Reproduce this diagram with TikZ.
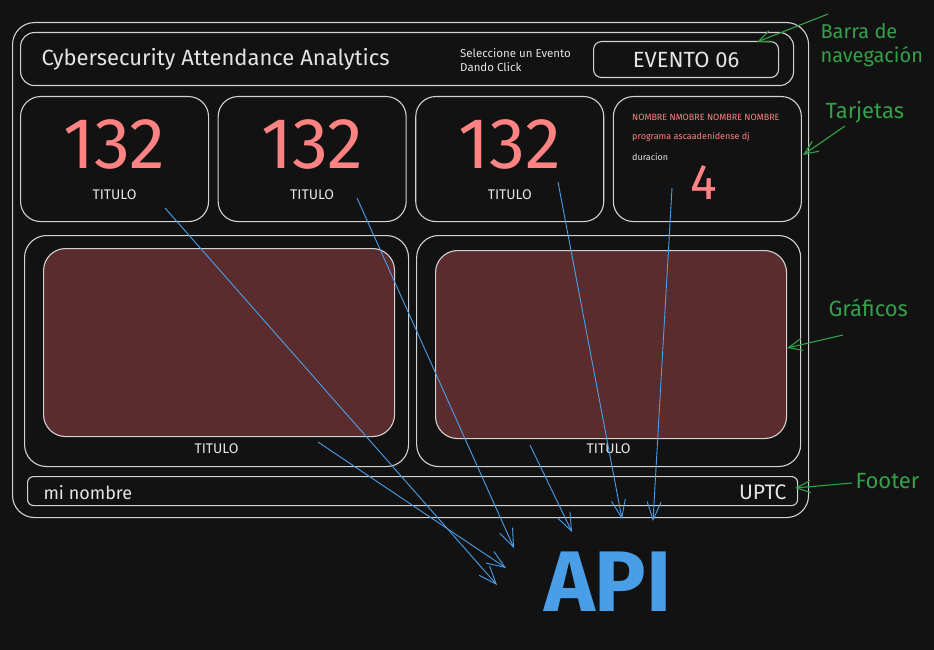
\documentclass[tikz,border=0pt]{standalone}
\usepackage{fontspec}
\setmainfont{Fira Sans}
\usetikzlibrary{arrows.meta,positioning}
\definecolor{dbbg}{HTML}{121212}
\definecolor{dbline}{HTML}{D2D2D2}
\definecolor{dbtext}{HTML}{E4E4E4}
\definecolor{dbpink}{HTML}{FF8383}
\definecolor{dbwine}{HTML}{5B2C2E}
\definecolor{dbblue}{HTML}{4A9EE8}
\definecolor{dbgreen}{HTML}{34A14A}
\newcommand\dbsize[1]{\fontsize{#1}{#1}\selectfont}
\tikzset{
  frame/.style={draw=dbline,line width=1.1pt,rounded corners=#1,inner sep=0pt,
                anchor=north west},
  frame/.default=18pt,
  card/.style={frame=20pt,minimum width=188pt,minimum height=125pt},
  chart/.style={frame=22pt,minimum width=384pt,minimum height=231pt},
  plot/.style={frame=22pt,fill=dbwine,minimum width=351pt,minimum height=188pt},
  num/.style={text=dbpink,font=\dbsize{72},inner sep=0pt,text height=50pt,text depth=0pt},
  ttl/.style={text=dbtext,font=\dbsize{14},inner sep=0pt},
  small/.style={text=dbpink,font=\dbsize{9},anchor=west,inner sep=0pt},
  note/.style={text=dbgreen,font=\dbsize{22},align=left,anchor=west},
  ar/.style={-{Straight Barb[length=18pt,width=14pt]},dbblue,line width=0.9pt},
  arn/.style={-{Straight Barb[length=14pt,width=12pt]},dbgreen,line width=1.1pt},
}

\begin{document}
\begin{tikzpicture}[x=1pt,y=-1pt]
    \path[use as bounding box,fill=dbbg] (0,0) rectangle (934,650);
    % page frame and navigation bar
    \node[frame=22pt,minimum width=796pt,minimum height=495pt] (page) at (12,22) {};
    \node[frame=14pt,minimum width=773pt,minimum height=53pt] (nav) at (20,32) {};
    \node[text=dbtext,font=\dbsize{22},anchor=west] (title) at (38,59)
      {Cybersecurity Attendance Analytics};
    \node[text=dbtext,font=\dbsize{11.5},align=left,anchor=west,inner sep=0pt] (hint) at (460,60)
      {Seleccione un Evento\\[2pt]Dando Click};
    \node[frame=8pt,minimum width=185pt,minimum height=36pt] (ev) at (593,41) {};
    \node[text=dbtext,font=\dbsize{22}] (evt) at (ev.center) {EVENTO 06};
    % cards
    \node[card] (c1) at (20,96) {};
    \node[card,right=8.5pt of c1] (c2) {};
    \node[card,right=8.5pt of c2] (c3) {};
    \node[card,right=8.5pt of c3] (c4) {};
    \foreach \c in {c1,c2,c3}{
      \node[num] (\c n) at ([yshift=-47pt]\c.north) {132};
      \node[ttl] (\c t) at ([yshift=-99pt]\c.north) {TITULO};
    }
    \node[small] (nm) at (632,117) {NOMBRE NMOBRE NOMBRE NOMBRE};
    \node[small] (prog) at (632,137) {programa ascaadenidense dj};
    \node[small,text=dbtext] (dur) at (632,157) {duracion};
    \node[num,font=\dbsize{50},text height=35pt] (c4n) at (704,182) {4};
    % charts
    \node[chart] (g1) at (24,235) {};
    \node[chart,right=7pt of g1] (g2) {};
    \node[plot] (p1) at (43,248) {};
    \node[plot] (p2) at (435,250) {};
    \node[ttl] (g1t) at ([yshift=18pt]g1.south) {TITULO};
    \node[ttl] (g2t) at ([yshift=18pt]g2.south) {TITULO};
    % footer
    \node[frame=6pt,minimum width=770pt,minimum height=29pt] (foot) at (27,476) {};
    \node[text=dbtext,font=\dbsize{18},anchor=west] (me) at (40,493) {mi nombre};
    \node[text=dbtext,font=\dbsize{21},anchor=east] (uni) at (790,492) {UPTC};
    % api
    \node[text=dbblue,font=\dbsize{86}\bfseries] (api) at (608,582) {API};
    \coordinate (s1) at (165,208); \coordinate (e1) at (497,585);
    \coordinate (s2) at (357,198); \coordinate (e2) at (514,548);
    \coordinate (s3) at (558,182); \coordinate (e3) at (622,519);
    \coordinate (s4) at (672,188); \coordinate (e4) at (653,521);
    \coordinate (s5) at (318,442); \coordinate (e5) at (506,568);
    \coordinate (s6) at (530,445); \coordinate (e6) at (572,532);
    \foreach \i in {1,...,6}{\draw[ar] (s\i) -- (e\i);}
    % notes
    \node[note,font=\dbsize{20}] (nbar) at (817,45) {Barra de\\[4pt]navegación};
    \node[note] (ncard) at (822,112) {Tarjetas};
    \node[note] (nplot) at (825,308) {Gráficos};
    \node[note] (nfoot) at (852,481) {Footer};
    \coordinate (t1) at (828,14);  \coordinate (h1) at (757,42);
    \coordinate (t2) at (845,126); \coordinate (h2) at (803,155);
    \coordinate (t3) at (843,335); \coordinate (h3) at (787,348);
    \coordinate (t4) at (852,483); \coordinate (h4) at (795,488);
    \foreach \i in {1,...,4}{\draw[arn] (t\i) -- (h\i);}
\end{tikzpicture}
\end{document}
